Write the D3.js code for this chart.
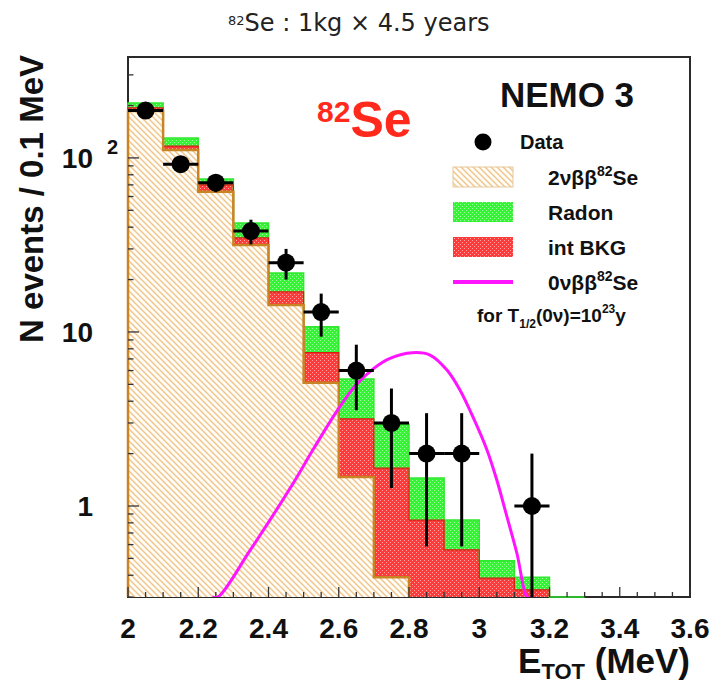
<!DOCTYPE html>
<html>
<head>
<meta charset="utf-8">
<script src="https://cdn.jsdelivr.net/npm/d3@7"></script>
<style>
  body { margin: 0; background: #fff; }
  svg { display: block; }
</style>
</head>
<body>
<svg id="chart" width="713" height="686"></svg>
<script>
// ---- data: 82Se spectrum, 1 kg x 4.5 years, bins of 0.1 MeV ----
const binLow = [2.0, 2.1, 2.2, 2.3, 2.4, 2.5, 2.6, 2.7, 2.8, 2.9, 3.0, 3.1, 3.2];
const binWidth = 0.1;
const twoNuBB = [186, 111, 64, 31.6, 14.3, 5.1, 1.47, 0.39, 0, 0, 0, 0, 0];
const intBkg  = [8, 6, 6, 3.1, 2.7, 2.5, 1.7, 1.26, 0.83, 0.56, 0.385, 0.33, 0];
const radon   = [13, 13, 5.7, 7.6, 4.8, 3.1, 2.2, 1.3, 0.62, 0.27, 0.1, 0.06, 0.1];
const dataCounts = [187, 92, 72, 38, 25, 13, 6, 3, 2, 2, 0, 1, 0];

// 0vbb expectation for T1/2 = 1e23 y
const zeroNuEnergy = [2.24, 2.256, 2.347, 2.461, 2.530, 2.598, 2.649, 2.698, 2.746, 2.809,
                      2.860, 2.908, 2.945, 2.982, 3.022, 3.050, 3.079, 3.107, 3.136, 3.145];
const zeroNuCounts = [0.27, 0.30, 0.554, 1.26, 2.16, 3.59, 4.95, 6.14, 7.05, 7.6,
                      7.37, 6.04, 4.64, 3.25, 2.10, 1.41, 0.865, 0.537, 0.30, 0.246];

const xTickValues = [2, 2.2, 2.4, 2.6, 2.8, 3, 3.2, 3.4, 3.6];
const xTickLabels = ["2", "2.2", "2.4", "2.6", "2.8", "3", "3.2", "3.4", "3.6"];
const yMajorTicks = [1, 10, 100];
const yMinorTicks = [0.3, 0.4, 0.5, 0.6, 0.7, 0.8, 0.9, 2, 3, 4, 5, 6, 7, 8, 9,
                     20, 30, 40, 50, 60, 70, 80, 90, 200, 300];

// ---- layout ----
const plot = { left: 128, right: 690, top: 57, bottom: 597 };
const yMin = 0.3, yMax = 380;

const x = d3.scaleLinear().domain([2, 3.6]).range([plot.left, plot.right]);
const y = d3.scaleLog().domain([yMin, yMax]).range([plot.bottom, plot.top]).clamp(true);

const svg = d3.select("#chart");
const rootFont = "'Liberation Sans', Arial, Helvetica, sans-serif";

// ---- fill patterns ----
const defs = svg.append("defs");
const hatch = defs.append("pattern")
  .attr("id", "hatch2nu").attr("patternUnits", "userSpaceOnUse")
  .attr("width", 6).attr("height", 6);
hatch.append("rect").attr("width", 6).attr("height", 6).attr("fill", "#fffdf8");
hatch.append("path").attr("d", "M-1,-1 L7,7 M-1,5 L1,7 M5,-1 L7,1")
  .attr("stroke", "#f0c48a").attr("stroke-width", 1.4);

function dotted(id, base) {
  const p = defs.append("pattern")
    .attr("id", id).attr("patternUnits", "userSpaceOnUse")
    .attr("width", 4).attr("height", 4);
  p.append("rect").attr("width", 4).attr("height", 4).attr("fill", base);
  p.append("rect").attr("x", 0).attr("y", 0).attr("width", 1).attr("height", 1)
    .attr("fill", "#fff").attr("opacity", 0.55);
  p.append("rect").attr("x", 2).attr("y", 2).attr("width", 1).attr("height", 1)
    .attr("fill", "#fff").attr("opacity", 0.55);
}
dotted("dotGreen", "#34f534");
dotted("dotRed", "#ff3a3a");

defs.append("clipPath").attr("id", "plotClip")
  .append("rect").attr("x", plot.left).attr("y", plot.top)
  .attr("width", plot.right - plot.left).attr("height", plot.bottom - plot.top);

// ---- frame ----
svg.append("rect")
  .attr("x", plot.left).attr("y", plot.top)
  .attr("width", plot.right - plot.left).attr("height", plot.bottom - plot.top)
  .attr("fill", "none").attr("stroke", "#2a2a2a").attr("stroke-width", 2);

// ---- stacked histogram (each layer drawn from the bottom, total first) ----
const rows = binLow.map((b, i) => ({ low: b, twoNu: twoNuBB[i], intBkg: intBkg[i], radon: radon[i] }));
const stacked = d3.stack().keys(["twoNu", "intBkg", "radon"])(rows);

const layers = [
  { series: stacked[2], fill: "url(#dotGreen)", stroke: "#30e830", width: 1.5 },
  { series: stacked[1], fill: "url(#dotRed)",   stroke: "#d81c10", width: 1.2 },
  { series: stacked[0], fill: "url(#hatch2nu)", stroke: "#c98426", width: 2.5 }
];

const histG = svg.append("g").attr("clip-path", "url(#plotClip)");

layers.forEach(layer => {
  const cum = layer.series.map(d => d[1]);
  let last = -1;
  cum.forEach((v, i) => { if (v > 0) last = i; });
  const pts = [];
  for (let i = 0; i <= last; i++) pts.push({ e: binLow[i], v: cum[i] });
  pts.push({ e: binLow[last] + binWidth, v: cum[last] });

  const area = d3.area()
    .x(d => x(d.e)).y0(y(yMin)).y1(d => y(Math.max(d.v, yMin)))
    .curve(d3.curveStepAfter);
  histG.append("path").attr("d", area(pts)).attr("fill", layer.fill);

  const outlinePts = [{ e: binLow[0], v: yMin }, ...pts, { e: binLow[last] + binWidth, v: yMin }];
  const line = d3.line()
    .x(d => x(d.e)).y(d => y(Math.max(d.v, yMin)))
    .curve(d3.curveStepAfter);
  svg.append("path").attr("d", line(outlinePts))
    .attr("fill", "none").attr("stroke", layer.stroke).attr("stroke-width", layer.width);
});

// ---- ticks ----
const tickG = svg.append("g").attr("stroke", "#333").attr("stroke-width", 1.3);
d3.range(2, 3.6001, 0.05).forEach(t => {
  const major = xTickValues.some(v => Math.abs(v - t) < 1e-6);
  tickG.append("line")
    .attr("x1", x(t)).attr("x2", x(t))
    .attr("y1", plot.bottom).attr("y2", plot.bottom - (major ? 10 : 5));
});
yMajorTicks.forEach(t => {
  tickG.append("line").attr("x1", plot.left).attr("x2", plot.left + 11)
    .attr("y1", y(t)).attr("y2", y(t));
});
yMinorTicks.forEach(t => {
  tickG.append("line").attr("x1", plot.left).attr("x2", plot.left + 5.5)
    .attr("y1", y(t)).attr("y2", y(t));
});

// ---- tick labels ----
const labelG = svg.append("g")
  .attr("font-family", rootFont).attr("font-weight", "bold").attr("fill", "#111");
xTickValues.forEach((t, i) => {
  labelG.append("text").attr("x", x(t)).attr("y", 638)
    .attr("text-anchor", "middle").attr("font-size", 28).text(xTickLabels[i]);
});
labelG.append("text").attr("x", 93).attr("y", y(100) + 10)
  .attr("text-anchor", "end").attr("font-size", 28).text("10");
labelG.append("text").attr("x", 107).attr("y", y(100) - 4)
  .attr("font-size", 20).text("2");
labelG.append("text").attr("x", 93).attr("y", y(10) + 10)
  .attr("text-anchor", "end").attr("font-size", 28).text("10");
labelG.append("text").attr("x", 93).attr("y", y(1) + 10)
  .attr("text-anchor", "end").attr("font-size", 28).text("1");

// ---- axis titles ----
svg.append("text")
  .attr("transform", `translate(43,${plot.top - 2}) rotate(-90)`)
  .attr("text-anchor", "end")
  .attr("font-family", rootFont).attr("font-weight", "bold").attr("font-size", 33)
  .attr("fill", "#111")
  .text("N events / 0.1 MeV");

const xTitle = svg.append("text")
  .attr("x", plot.right).attr("y", 673).attr("text-anchor", "end")
  .attr("font-family", rootFont).attr("font-weight", "bold").attr("font-size", 35)
  .attr("fill", "#111");
xTitle.append("tspan").text("E");
xTitle.append("tspan").attr("font-size", 22).attr("dy", 6).text("TOT");
xTitle.append("tspan").attr("dy", -6).text(" (MeV)");

// ---- 0vbb curve ----
const curveLine = d3.line()
  .x((d, i) => x(zeroNuEnergy[i]))
  .y(d => y(d))
  .curve(d3.curveCatmullRom);
svg.append("path")
  .attr("clip-path", "url(#plotClip)")
  .attr("d", curveLine(zeroNuCounts))
  .attr("fill", "none").attr("stroke", "#ff14ff").attr("stroke-width", 3);

// ---- data points with sqrt(N) errors ----
const dataG = svg.append("g").attr("clip-path", "url(#plotClip)");
dataCounts.forEach((n, i) => {
  if (n <= 0) return;
  const cx = x(binLow[i] + binWidth / 2);
  const err = Math.sqrt(n);
  dataG.append("line")
    .attr("x1", x(binLow[i])).attr("x2", x(binLow[i] + binWidth))
    .attr("y1", y(n)).attr("y2", y(n))
    .attr("stroke", "#000").attr("stroke-width", 3);
  dataG.append("line")
    .attr("x1", cx).attr("x2", cx)
    .attr("y1", y(Math.max(n - err, yMin * 0.5))).attr("y2", y(n + err))
    .attr("stroke", "#000").attr("stroke-width", 3);
  dataG.append("circle").attr("cx", cx).attr("cy", y(n)).attr("r", 9).attr("fill", "#000");
});

// ---- titles inside the pad ----
const title = svg.append("text")
  .attr("x", 228).attr("y", 31)
  .attr("font-family", "'DejaVu Sans', Verdana, sans-serif").attr("fill", "#222");
title.append("tspan").attr("font-size", 13).attr("dy", -6).text("82");
title.append("tspan").attr("font-size", 24).attr("dy", 6).text("Se : 1kg × 4.5 years");

svg.append("text")
  .attr("x", 567).attr("y", 107).attr("text-anchor", "middle")
  .attr("font-family", rootFont).attr("font-weight", "bold").attr("font-size", 35)
  .attr("fill", "#111").text("NEMO 3");

const seLabel = svg.append("text")
  .attr("x", 317).attr("y", 137)
  .attr("font-family", rootFont).attr("font-weight", "bold").attr("fill", "#ff2a1c");
seLabel.append("tspan").attr("font-size", 30).attr("dy", -15).text("82");
seLabel.append("tspan").attr("font-size", 50).attr("dy", 15).text("Se");

// ---- legend ----
const leg = svg.append("g")
  .attr("font-family", rootFont).attr("font-weight", "bold").attr("fill", "#111");
const boxX = 453, boxW = 60, boxH = 20;

leg.append("circle").attr("cx", boxX + boxW / 2).attr("cy", 142).attr("r", 8.5).attr("fill", "#000");
leg.append("text").attr("x", 520).attr("y", 149).attr("font-size", 20).text("Data");

function nuLabel(yPos, lead) {
  const t = leg.append("text").attr("x", 548).attr("y", yPos).attr("font-size", 21);
  t.append("tspan").text(lead + "νββ");
  t.append("tspan").attr("font-size", 14).attr("dy", -9).text("82");
  t.append("tspan").attr("dy", 9).text("Se");
}

leg.append("rect").attr("x", boxX).attr("y", 167).attr("width", boxW).attr("height", boxH)
  .attr("fill", "url(#hatch2nu)").attr("stroke", "#e6c79a").attr("stroke-width", 1);
nuLabel(185, "2");

leg.append("rect").attr("x", boxX).attr("y", 202).attr("width", boxW).attr("height", boxH)
  .attr("fill", "url(#dotGreen)");
leg.append("text").attr("x", 548).attr("y", 220).attr("font-size", 21).text("Radon");

leg.append("rect").attr("x", boxX).attr("y", 237).attr("width", boxW).attr("height", boxH)
  .attr("fill", "url(#dotRed)");
leg.append("text").attr("x", 548).attr("y", 255).attr("font-size", 21).text("int BKG");

leg.append("line").attr("x1", boxX).attr("x2", boxX + boxW).attr("y1", 282).attr("y2", 282)
  .attr("stroke", "#ff14ff").attr("stroke-width", 4);
nuLabel(290, "0");

const forT = leg.append("text").attr("x", 477).attr("y", 322).attr("font-size", 19);
forT.append("tspan").text("for T");
forT.append("tspan").attr("font-size", 12).attr("dy", 6).text("1/2");
forT.append("tspan").attr("dy", -6).text("(0ν)=10");
forT.append("tspan").attr("font-size", 12).attr("dy", -9).text("23");
forT.append("tspan").attr("dy", 9).text("y");
</script>
</body>
</html>
